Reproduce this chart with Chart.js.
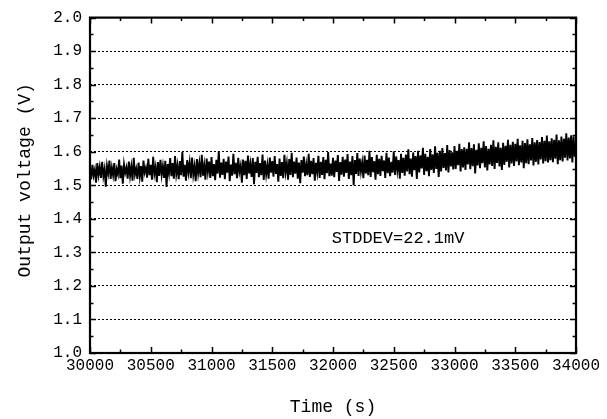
<!DOCTYPE html>
<html>
<head>
<meta charset="utf-8">
<script src="https://cdn.jsdelivr.net/npm/chart.js@4.4.0/dist/chart.umd.min.js"></script>
<style>
  html, body { margin: 0; padding: 0; background: #fff; }
  #wrap { width: 607px; height: 419px; }
</style>
</head>
<body>
<div id="wrap"><canvas id="c" width="607" height="419"></canvas></div>
<script>
// sampling grid of the recorder trace
const T_START = 30000;
const T_STEP = 10;

// output voltage (V), one reading per 10 s
const voltage = [
  1.552,1.518,1.561,1.529,1.547,1.508,1.566,1.531,1.555,1.522,
  1.570,1.527,1.549,1.496,1.558,1.536,1.574,1.519,1.553,1.530,
  1.566,1.512,1.548,1.533,1.577,1.521,1.559,1.505,1.562,1.537,
  1.553,1.520,1.571,1.528,1.556,1.514,1.582,1.532,1.549,1.519,
  1.568,1.526,1.557,1.511,1.574,1.538,1.552,1.523,1.579,1.530,
  1.561,1.517,1.585,1.534,1.555,1.509,1.569,1.528,1.576,1.531,
  1.558,1.522,1.573,1.495,1.563,1.536,1.581,1.527,1.566,1.520,
  1.587,1.533,1.559,1.518,1.572,1.530,1.599,1.526,1.561,1.514,
  1.575,1.539,1.568,1.521,1.583,1.531,1.557,1.512,1.578,1.536,
  1.566,1.524,1.591,1.529,1.560,1.517,1.580,1.540,1.571,1.522,
  1.584,1.527,1.563,1.515,1.576,1.535,1.602,1.523,1.568,1.531,
  1.579,1.518,1.571,1.538,1.586,1.512,1.562,1.529,1.594,1.533,
  1.567,1.521,1.582,1.540,1.559,1.508,1.577,1.530,1.573,1.519,
  1.589,1.535,1.564,1.525,1.581,1.503,1.570,1.537,1.585,1.524,
  1.566,1.530,1.592,1.516,1.574,1.532,1.561,1.520,1.583,1.538,
  1.572,1.526,1.587,1.534,1.563,1.511,1.580,1.528,1.569,1.521,
  1.591,1.539,1.566,1.517,1.578,1.531,1.597,1.524,1.571,1.535,
  1.583,1.520,1.568,1.506,1.575,1.538,1.586,1.527,1.562,1.530,
  1.594,1.525,1.573,1.533,1.581,1.514,1.567,1.539,1.588,1.522,
  1.570,1.531,1.584,1.518,1.576,1.536,1.599,1.527,1.565,1.529,
  1.582,1.524,1.574,1.540,1.590,1.513,1.569,1.532,1.585,1.526,
  1.577,1.537,1.593,1.519,1.571,1.530,1.587,1.500,1.575,1.534,
  1.596,1.528,1.580,1.541,1.568,1.521,1.589,1.535,1.576,1.530,
  1.603,1.525,1.584,1.539,1.572,1.517,1.591,1.533,1.579,1.528,
  1.588,1.542,1.574,1.522,1.597,1.536,1.583,1.527,1.570,1.538,
  1.601,1.531,1.586,1.544,1.575,1.520,1.594,1.537,1.582,1.529,
  1.592,1.541,1.607,1.533,1.580,1.526,1.598,1.545,1.587,1.519,
  1.603,1.538,1.589,1.550,1.612,1.531,1.594,1.542,1.585,1.527,
  1.608,1.546,1.592,1.537,1.616,1.549,1.597,1.525,1.603,1.541,
  1.611,1.552,1.596,1.544,1.620,1.538,1.605,1.556,1.598,1.547,
  1.617,1.549,1.603,1.560,1.624,1.541,1.608,1.553,1.613,1.546,
  1.609,1.562,1.628,1.548,1.611,1.557,1.622,1.535,1.606,1.559,
  1.625,1.551,1.612,1.566,1.631,1.553,1.617,1.544,1.609,1.562,
  1.621,1.558,1.634,1.549,1.615,1.567,1.628,1.556,1.612,1.546,
  1.627,1.561,1.618,1.570,1.636,1.553,1.621,1.565,1.630,1.558,
  1.624,1.571,1.639,1.560,1.619,1.568,1.633,1.551,1.626,1.566,
  1.637,1.563,1.622,1.574,1.641,1.559,1.628,1.570,1.635,1.562,
  1.629,1.577,1.644,1.565,1.633,1.572,1.648,1.568,1.631,1.575,
  1.640,1.569,1.636,1.579,1.651,1.563,1.634,1.575,1.645,1.571,
  1.639,1.582,1.655,1.574,1.642,1.580,1.649,1.568,1.646,1.585,
  1.620
];

const xTickLabels = ['30000','30500','31000','31500','32000','32500','33000','33500','34000'];
const yTickLabels = ['1.0','1.1','1.2','1.3','1.4','1.5','1.6','1.7','1.8','1.9','2.0'];
const xTitle = 'Time (s)';
const yTitle = 'Output voltage (V)';
const note = 'STDDEV=22.1mV';
const notePos = { x: 31990, y: 1.342 };

const points = voltage.map((v, i) => ({ x: T_START + i * T_STEP, y: v }));

const MONO = '"Liberation Mono", "DejaVu Sans Mono", monospace';

// frame, inward ticks on all four sides, axis titles and the note
const framePlugin = {
  id: 'frame',
  afterDraw(chart) {
    const { ctx, chartArea: a, scales: { x, y } } = chart;
    ctx.save();
    ctx.strokeStyle = '#000';
    ctx.lineWidth = 1.5;
    // x ticks: major every 500, minor every 250
    for (let v = 30000; v <= 34000; v += 250) {
      const px = Math.round(x.getPixelForValue(v)) + 0.5;
      const len = v % 500 === 0 ? 6 : 3.5;
      ctx.beginPath();
      ctx.moveTo(px, a.bottom); ctx.lineTo(px, a.bottom - len);
      ctx.moveTo(px, a.top); ctx.lineTo(px, a.top + len);
      ctx.stroke();
    }
    // y ticks: major every 0.1, minor every 0.05
    for (let k = 0; k <= 20; k++) {
      const v = 1 + k * 0.05;
      const py = Math.round(y.getPixelForValue(v)) + 0.5;
      const len = k % 2 === 0 ? 6 : 3.5;
      ctx.beginPath();
      ctx.moveTo(a.left, py); ctx.lineTo(a.left + len, py);
      ctx.moveTo(a.right, py); ctx.lineTo(a.right - len, py);
      ctx.stroke();
    }
    ctx.lineWidth = 2.2;
    ctx.strokeRect(a.left, a.top, a.right - a.left, a.bottom - a.top);

    ctx.fillStyle = '#000';
    ctx.font = '18px ' + MONO;
    ctx.textAlign = 'center';
    ctx.textBaseline = 'middle';
    ctx.fillText(xTitle, (a.left + a.right) / 2, a.bottom + 54);
    ctx.save();
    ctx.translate(25, (a.top + a.bottom) / 2 - 5);
    ctx.rotate(-Math.PI / 2);
    ctx.fillText(yTitle, 0, 0);
    ctx.restore();

    ctx.textAlign = 'left';
    ctx.font = '17px ' + MONO;
    ctx.fillText(note, x.getPixelForValue(notePos.x), y.getPixelForValue(notePos.y));
    ctx.restore();
  }
};

new Chart(document.getElementById('c'), {
  type: 'line',
  data: {
    datasets: [{
      data: points,
      borderColor: '#000',
      borderWidth: 1.9,
      pointRadius: 0,
      tension: 0,
      fill: false
    }]
  },
  options: {
    responsive: false,
    animation: false,
    events: [],
    layout: { padding: { top: 16, right: 31, left: 0, bottom: 0 } },
    plugins: { legend: { display: false }, tooltip: { enabled: false } },
    scales: {
      x: {
        type: 'linear',
        min: 30000,
        max: 34000,
        afterFit: s => { s.height = 66; },
        afterBuildTicks: s => { s.ticks = xTickLabels.map(t => ({ value: Number(t) })); },
        ticks: {
          autoSkip: false,
          maxRotation: 0,
          padding: 3,
          color: '#000',
          font: { family: MONO, size: 16 },
          callback: (v, i) => xTickLabels[i]
        },
        grid: { display: false, drawTicks: false },
        border: { display: false }
      },
      y: {
        min: 1.0,
        max: 2.0,
        afterFit: s => { s.width = 90; },
        afterBuildTicks: s => { s.ticks = yTickLabels.map(t => ({ value: Number(t) })); },
        ticks: {
          padding: 8,
          color: '#000',
          font: { family: MONO, size: 16 },
          callback: (v, i) => yTickLabels[i]
        },
        grid: {
          drawTicks: false,
          color: c => (c.index === 0 || c.index === yTickLabels.length - 1) ? 'rgba(0,0,0,0)' : '#000',
          lineWidth: 1
        },
        border: { display: false, dash: [2, 2] }
      }
    }
  },
  plugins: [framePlugin]
});
</script>
</body>
</html>
